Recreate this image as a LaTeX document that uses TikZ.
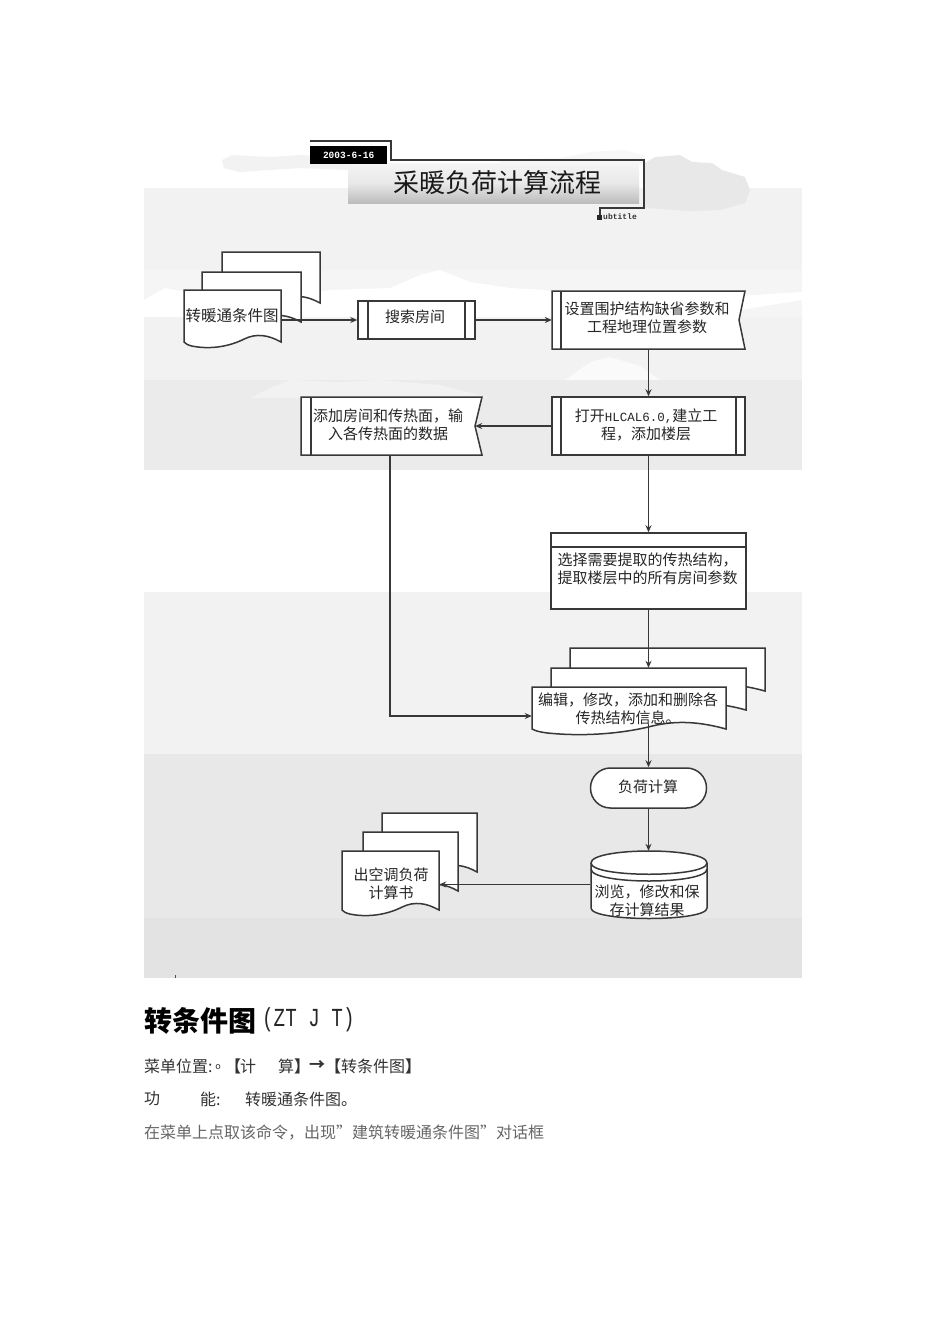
\documentclass[tikz,border=0pt]{standalone}
\usepackage{fontspec}
\setmainfont{Noto Sans CJK SC}
\newfontfamily\lmono{Liberation Mono}
\newfontfamily\headmono[FakeStretch=0.74]{Liberation Mono}
\newcommand{\fsz}[1]{\fontsize{#1}{#1}\selectfont}
\usetikzlibrary{arrows.meta}
\tikzset{
  ln/.style={draw=black!78,line width=1.5pt},
  boxs/.style={ln,fill=white,rectangle,inner sep=0pt},
  anchorbox/.style={rectangle,inner sep=0pt},
  lbl/.style={inner sep=0pt,text=black!85,font=\fsz{15},align=center},
  doctxt/.style={inner sep=0pt,text=black!80,font=\fsz{16},anchor=west},
  conn/.style={draw=black!78,line width=1.5pt,-{Stealth[length=7pt,width=6pt]}},
  plain/.style={draw=black!78,line width=1.5pt},
}
% wavy document: x1,y1,x2,y2 (y2 = end of the side edges)
\newcommand{\docpath}[4]{%
  \path[ln,fill=white] (#1,#2) -- (#3,#2) -- (#3,#4)
    .. controls ({#3-0.13*(#3-#1)},{#4-7}) and ({#3-0.25*(#3-#1)},{#4-9}) .. ({#3-0.38*(#3-#1)},{#4-3})
    .. controls ({#3-0.52*(#3-#1)},{#4+4}) and ({#3-0.72*(#3-#1)},{#4+8}) .. ({#1+0.08*(#3-#1)},{#4+4})
    .. controls ({#1+0.04*(#3-#1)},{#4+3}) and ({#1+0.02*(#3-#1)},{#4+2}) .. (#1,#4) -- cycle;}
\begin{document}
\begin{tikzpicture}[x=1pt,y=-1pt]
\useasboundingbox (0,0) rectangle (950,1344);
\fill[white] (0,0) rectangle (950,1344);
% background bands and clouds
\fill[black!5] (222,160) -- (232,155) -- (270,157) -- (300,155) -- (348,158) -- (348,170) -- (300,168) -- (240,172) -- (224,168) -- cycle;
\fill[black!3] (500,160) -- (560,158) -- (590,152) -- (625,150) -- (645,156) -- (645,165) -- (500,165) -- cycle;
\fill[black!5] (144,188) rectangle (802,270);
\fill[black!4] (144,270) rectangle (802,317);
\fill[black!5] (144,317) rectangle (802,380);
\fill[black!8] (144,380) rectangle (802,470);
\fill[black!9] (645,163) -- (655,157) -- (680,155) -- (692,162) -- (712,163) -- (722,170) -- (745,177) -- (750,190) -- (745,203) -- (720,210) -- (690,211) -- (645,208) -- cycle;
\fill[white] (144,300) -- (165,288) -- (185,292) -- (215,285) -- (260,300) -- (330,290) -- (390,288) -- (420,275) -- (440,270) -- (470,282) -- (510,288) -- (545,290) -- (590,300) -- (640,296) -- (720,297) -- (802,292) -- (802,300) -- (740,310) -- (660,317) -- (144,317) -- cycle;
\fill[black!2] (565,380) -- (590,362) -- (610,357) -- (640,366) -- (660,380) -- cycle;
\fill[black!5] (250,398) -- (270,388) -- (290,380) -- (340,382) -- (380,380) -- (440,385) -- (490,398) -- cycle;
\fill[black!5] (144,592) rectangle (802,754);
\fill[black!9] (144,754) rectangle (802,918);
\fill[black!11] (144,918) rectangle (802,978);
\node[inner sep=0pt,fill=black!70,minimum width=1pt,minimum height=3pt] (tick) at (175,976) {};

% title
\shade[top color=black!4,bottom color=black!26,middle color=black!9] (348,163) rectangle (639,203);
\node[anchor=north west,fill=black,minimum width=77pt,minimum height=18pt,inner sep=0pt,text=white,font=\lmono\fsz{9.5}\bfseries] (date) at (310,146) {2003-6-16};
\coordinate (t1) at (310,141);
\coordinate (t2) at (391,141);
\coordinate (t3) at (391,160);
\coordinate (t4) at (644,160);
\coordinate (t5) at (644,208);
\coordinate (t6) at (600,208);
\coordinate (t7) at (600,217);
\draw[plain] (t1) -- (t2) -- (t3) -- (t4) -- (t5) -- (t6) -- (t7);
\node[fill=black!85,minimum size=5pt,inner sep=0pt] (sq) at (599,217) {};
\node[inner sep=0pt,anchor=west,font=\lmono\fsz{8}\bfseries,text=black!80] (sub) at (603,217) {ubtitle};
\node[inner sep=0pt,text=black!90,font=\fsz{26}] (title) at (497,183) {采暖负荷计算流程};

% stack 1
\docpath{222}{252}{320}{303}
\docpath{202}{272}{301}{322}
\docpath{184}{290}{281}{342}
\node[anchorbox,minimum width=97pt,minimum height=60pt] (d1) at (232.5,320) {};
\node[lbl,font=\fsz{15.5}] (d1t) at (232,316) {转暖通条件图};

% search room
\node[boxs,minimum width=117pt,minimum height=38pt] (s1) at (416.5,320) {};
\draw[plain] (368,301) -- (368,339) (465,301) -- (465,339);
\node[lbl] (s1t) at (415,317) {搜索房间};

% box 3 : stored data shape
\path[ln,fill=white] (552,291) -- (745,291) -- (739,320) -- (745,349) -- (552,349) -- cycle;
\draw[plain] (561,291) -- (561,349);
\node[anchorbox,minimum width=187pt,minimum height=58pt] (s2) at (645.5,320) {};
\node[lbl] (s2t) at (647,318) {设置围护结构缺省参数和\\[3pt]工程地理位置参数};

% box 4
\node[boxs,minimum width=193pt,minimum height=58pt] (s3) at (648.5,426) {};
\draw[plain] (561,397) -- (561,455) (736,397) -- (736,455);
\node[lbl] (s3t) at (646,425) {打开{\lmono\fsz{12.5}HLCAL6.0,}建立工\\[3pt]程，添加楼层};

% box 5
\path[ln,fill=white] (301,397) -- (482,397) -- (475,426) -- (482,455) -- (301,455) -- cycle;
\draw[plain] (311,397) -- (311,455);
\node[anchorbox,minimum width=174pt,minimum height=58pt] (s4) at (388,426) {};
\node[lbl] (s4t) at (388,425) {添加房间和传热面，输\\[3pt]入各传热面的数据};

% box 6
\node[boxs,minimum width=195pt,minimum height=76pt] (s5) at (648.5,571) {};
\draw[plain] (551,547) -- (746,547);
\node[lbl,align=left] (s5t) at (647.5,569) {选择需要提取的传热结构，\\[3pt]提取楼层中的所有房间参数};

% stack 2
\docpath{570}{648}{765}{691}
\docpath{551}{668}{746}{710}
\docpath{532}{687}{726}{729}
\node[anchorbox,minimum width=195pt,minimum height=42pt] (d2m) at (648.5,689) {};
\node[anchorbox,minimum width=194pt,minimum height=58pt] (d2) at (629,716) {};
\coordinate (d2out) at (648.5,724);
\node[lbl] (d2t) at (628,709) {编辑，修改，添加和删除各\\[3pt]传热结构信息。};

% terminator
\node[boxs,rounded corners=19.9pt,minimum width=116pt,minimum height=40pt] (s6) at (648.5,788) {};
\node[lbl] (s6t) at (648,787) {负荷计算};

% database
\path[ln,fill=white] (591,863) .. controls (591,847) and (707,847) .. (707,863) -- (707,908)
   .. controls (707,922) and (591,922) .. (591,908) -- cycle;
\draw[plain] (591,863) .. controls (591,878) and (707,878) .. (707,863);
\draw[plain] (591,869) .. controls (591,885) and (707,885) .. (707,869);
\node[anchorbox,minimum width=116pt,minimum height=67pt] (s7) at (648.5,884.5) {};
\node[lbl] (s7t) at (647,901) {浏览，修改和保\\[3pt]存计算结果};

% stack 3
\docpath{382}{813}{477}{872}
\docpath{363}{832}{458}{891}
\docpath{342}{851}{439}{910}
\node[anchorbox,minimum width=97pt,minimum height=68pt] (d3) at (390.5,884.5) {};
\node[lbl] (d3t) at (391,883.5) {出空调负荷\\[3pt]计算书};

% connectors
\draw[conn] (d1.east) -- (s1.west);
\draw[conn] (s1.east) -- (s2.west);
\draw[conn] (s2.south -| s3.south) -- (s3.north);
\draw[conn] (s3.west) -- (s4.east);
\draw[conn] (s3.south) -- (s5.north);
\draw[conn] (s5.south) -- (d2m.north);
\draw[conn] (s4.south) ++(2,0) |- (d2.west);
\draw[conn] (d2out) -- (s6.north);
\draw[conn] (s6.south) -- (s7.north);
\draw[conn] (s7.west) -- (d3.east);

% text below
\node[doctxt,font=\fsz{28}\bfseries,text=black] (h1) at (144,1021) {转条件图};
\node[doctxt,font=\headmono\fsz{26},text=black!85] (h2) at (262,1020) {(ZT J T)};
\node[doctxt] (l2a) at (144,1066) {菜单位置:};
\node[inner sep=0pt,text=black!80,font=\fsz{9}] (l2z) at (218,1067) {o};
\node[doctxt,font=\fsz{16}\bfseries] (l2b) at (225,1066) {【};
\node[doctxt] (l2c) at (240,1066) {计};
\node[doctxt] (l2d) at (278,1066) {算};
\node[doctxt,font=\fsz{16}\bfseries] (l2e) at (294,1066) {】};
\node[doctxt,font=\fsz{16}\bfseries] (l2f) at (309,1066) {→};
\node[doctxt] (l2g) at (325,1066) {\textbf{【}转条件图\textbf{】}};
\node[doctxt] (l3a) at (144,1099) {功};
\node[doctxt] (l3b) at (200,1099) {能:};
\node[doctxt] (l3c) at (245,1099) {转暖通条件图。};
\node[doctxt,text=black!60] (l4) at (144,1133) {在菜单上点取该命令，出现”建筑转暖通条件图”对话框};
\end{tikzpicture}
\end{document}
